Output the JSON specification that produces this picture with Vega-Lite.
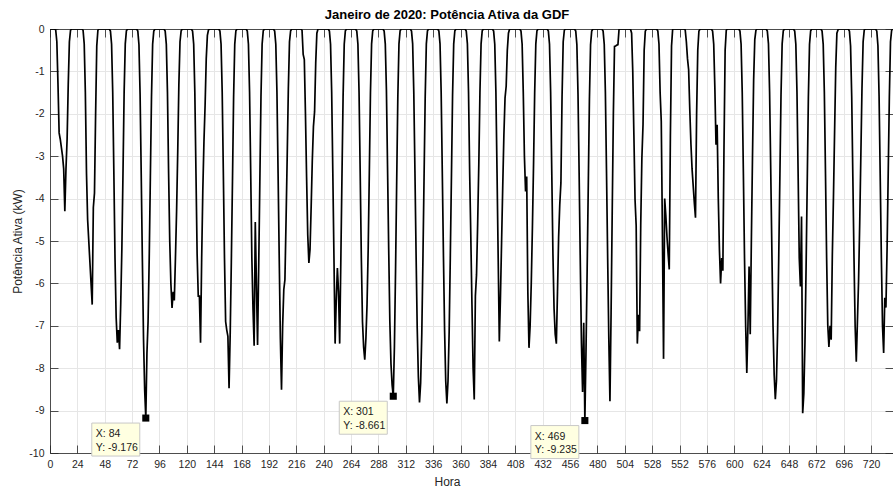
{
"$schema": "https://vega.github.io/schema/vega-lite/v6.json",
"autosize": "none",
"width": 843,
"height": 424,
"padding": {"left": 50, "top": 29, "right": 0, "bottom": 35},
"background": "white",
"config": {"view": {"stroke": null}, "font": "Liberation Sans", "axis": {"labelFont": "Liberation Sans", "titleFont": "Liberation Sans"}},
"title": {"text": "Janeiro de 2020: Potência Ativa da GDF", "fontSize": 13, "font": "Liberation Sans", "fontWeight": "bold", "color": "#000000", "anchor": "middle", "dx": -24.5, "offset": -8, "baseline": "alphabetic"},
"datasets": {
"pot": [
{"h":0,"p":0},{"h":1,"p":0},{"h":2,"p":0},{"h":3,"p":0},{"h":4,"p":0},{"h":5,"p":-0.02},{"h":6,"p":-0.3},{"h":7,"p":-1.3},{"h":8,"p":-2.45},{"h":9,"p":-2.6},{"h":10,"p":-2.8},{"h":11,"p":-3},{"h":12,"p":-3.3},{"h":13,"p":-4.3},{"h":14,"p":-3.3},{"h":15,"p":-2.6},{"h":16,"p":-1.3},{"h":17,"p":-0.3},{"h":18,"p":-0.03},{"h":19,"p":0},{"h":20,"p":0},{"h":21,"p":0},{"h":22,"p":0},{"h":23,"p":0},
{"h":24,"p":0},{"h":25,"p":0},{"h":26,"p":0},{"h":27,"p":0},{"h":28,"p":0},{"h":29,"p":-0.03},{"h":30,"p":-0.35},{"h":31,"p":-1.5},{"h":32,"p":-3.4},{"h":33,"p":-4.5},{"h":34,"p":-5},{"h":35,"p":-5.5},{"h":36,"p":-6},{"h":37,"p":-6.5},{"h":38,"p":-4.21},{"h":39,"p":-3.87},{"h":40,"p":-2},{"h":41,"p":-0.4},{"h":42,"p":-0.03},{"h":43,"p":0},{"h":44,"p":0},{"h":45,"p":0},{"h":46,"p":0},{"h":47,"p":0},
{"h":48,"p":0},{"h":49,"p":0},{"h":50,"p":0},{"h":51,"p":0},{"h":52,"p":0},{"h":53,"p":-0.05},{"h":54,"p":-0.36},{"h":55,"p":-1.5},{"h":56,"p":-3.4},{"h":57,"p":-5.4},{"h":58,"p":-6.8},{"h":59,"p":-7.4},{"h":60,"p":-7.1},{"h":61,"p":-7.55},{"h":62,"p":-6.5},{"h":63,"p":-5.2},{"h":64,"p":-3.4},{"h":65,"p":-1.5},{"h":66,"p":-0.35},{"h":67,"p":-0.04},{"h":68,"p":0},{"h":69,"p":0},{"h":70,"p":0},{"h":71,"p":0},
{"h":72,"p":0},{"h":73,"p":0},{"h":74,"p":0},{"h":75,"p":0},{"h":76,"p":0},{"h":77,"p":-0.05},{"h":78,"p":-0.37},{"h":79,"p":-1.55},{"h":80,"p":-3.45},{"h":81,"p":-5.45},{"h":82,"p":-7.3},{"h":83,"p":-8.5},{"h":84,"p":-9.176},{"h":85,"p":-7.65},{"h":86,"p":-6.9},{"h":87,"p":-5.4},{"h":88,"p":-3.5},{"h":89,"p":-1.6},{"h":90,"p":-0.36},{"h":91,"p":-0.05},{"h":92,"p":0},{"h":93,"p":0},{"h":94,"p":0},{"h":95,"p":0},
{"h":96,"p":0},{"h":97,"p":0},{"h":98,"p":0},{"h":99,"p":0},{"h":100,"p":0},{"h":101,"p":-0.05},{"h":102,"p":-0.36},{"h":103,"p":-1.5},{"h":104,"p":-3.4},{"h":105,"p":-5},{"h":106,"p":-6},{"h":107,"p":-6.58},{"h":108,"p":-6.2},{"h":109,"p":-6.4},{"h":110,"p":-5.4},{"h":111,"p":-4.3},{"h":112,"p":-2.9},{"h":113,"p":-1.3},{"h":114,"p":-0.3},{"h":115,"p":-0.04},{"h":116,"p":0},{"h":117,"p":0},{"h":118,"p":0},{"h":119,"p":0},
{"h":120,"p":0},{"h":121,"p":0},{"h":122,"p":0},{"h":123,"p":0},{"h":124,"p":0},{"h":125,"p":-0.05},{"h":126,"p":-0.36},{"h":127,"p":-1.5},{"h":128,"p":-3.4},{"h":129,"p":-5.3},{"h":130,"p":-6.3},{"h":131,"p":-6.3},{"h":132,"p":-7.4},{"h":133,"p":-5.4},{"h":134,"p":-3.8},{"h":135,"p":-2.65},{"h":136,"p":-1.8},{"h":137,"p":-0.7},{"h":138,"p":-0.15},{"h":139,"p":-0.02},{"h":140,"p":0},{"h":141,"p":0},{"h":142,"p":0},{"h":143,"p":0},
{"h":144,"p":0},{"h":145,"p":0},{"h":146,"p":0},{"h":147,"p":0},{"h":148,"p":0},{"h":149,"p":-0.05},{"h":150,"p":-0.36},{"h":151,"p":-1.5},{"h":152,"p":-3.4},{"h":153,"p":-5.4},{"h":154,"p":-6.9},{"h":155,"p":-7.1},{"h":156,"p":-7.25},{"h":157,"p":-8.47},{"h":158,"p":-7.2},{"h":159,"p":-5.5},{"h":160,"p":-3.6},{"h":161,"p":-1.6},{"h":162,"p":-0.36},{"h":163,"p":-0.04},{"h":164,"p":0},{"h":165,"p":0},{"h":166,"p":0},{"h":167,"p":0},
{"h":168,"p":0},{"h":169,"p":0},{"h":170,"p":0},{"h":171,"p":0},{"h":172,"p":0},{"h":173,"p":-0.05},{"h":174,"p":-0.36},{"h":175,"p":-1.5},{"h":176,"p":-3.4},{"h":177,"p":-5.4},{"h":178,"p":-6.6},{"h":179,"p":-7.47},{"h":180,"p":-4.55},{"h":181,"p":-6},{"h":182,"p":-7.45},{"h":183,"p":-5.6},{"h":184,"p":-3.6},{"h":185,"p":-1.6},{"h":186,"p":-0.36},{"h":187,"p":-0.04},{"h":188,"p":0},{"h":189,"p":0},{"h":190,"p":0},{"h":191,"p":0},
{"h":192,"p":0},{"h":193,"p":0},{"h":194,"p":0},{"h":195,"p":0},{"h":196,"p":0},{"h":197,"p":-0.05},{"h":198,"p":-0.36},{"h":199,"p":-1.5},{"h":200,"p":-3.4},{"h":201,"p":-5.4},{"h":202,"p":-7.3},{"h":203,"p":-8.51},{"h":204,"p":-7},{"h":205,"p":-6.15},{"h":206,"p":-5.91},{"h":207,"p":-4.5},{"h":208,"p":-3},{"h":209,"p":-1.4},{"h":210,"p":-0.3},{"h":211,"p":-0.04},{"h":212,"p":0},{"h":213,"p":0},{"h":214,"p":0},{"h":215,"p":0},
{"h":216,"p":0},{"h":217,"p":0},{"h":218,"p":0},{"h":219,"p":0},{"h":220,"p":0},{"h":221,"p":-0.03},{"h":222,"p":-0.6},{"h":223,"p":-0.72},{"h":224,"p":-2},{"h":225,"p":-3.5},{"h":226,"p":-4.85},{"h":227,"p":-5.52},{"h":228,"p":-5.2},{"h":229,"p":-4.2},{"h":230,"p":-3.1},{"h":231,"p":-2.3},{"h":232,"p":-1.95},{"h":233,"p":-0.8},{"h":234,"p":-0.1},{"h":235,"p":0},{"h":236,"p":0},{"h":237,"p":0},{"h":238,"p":0},{"h":239,"p":0},
{"h":240,"p":0},{"h":241,"p":0},{"h":242,"p":0},{"h":243,"p":0},{"h":244,"p":0},{"h":245,"p":-0.05},{"h":246,"p":-0.36},{"h":247,"p":-1.5},{"h":248,"p":-3.4},{"h":249,"p":-5.4},{"h":250,"p":-7.42},{"h":251,"p":-6.4},{"h":252,"p":-5.64},{"h":253,"p":-6.2},{"h":254,"p":-7.42},{"h":255,"p":-5.5},{"h":256,"p":-3.5},{"h":257,"p":-1.6},{"h":258,"p":-0.36},{"h":259,"p":-0.04},{"h":260,"p":0},{"h":261,"p":0},{"h":262,"p":0},{"h":263,"p":0},
{"h":264,"p":0},{"h":265,"p":0},{"h":266,"p":0},{"h":267,"p":0},{"h":268,"p":0},{"h":269,"p":-0.05},{"h":270,"p":-0.36},{"h":271,"p":-1.5},{"h":272,"p":-3.4},{"h":273,"p":-5.4},{"h":274,"p":-6.9},{"h":275,"p":-7.5},{"h":276,"p":-7.8},{"h":277,"p":-7.3},{"h":278,"p":-6.5},{"h":279,"p":-5.2},{"h":280,"p":-3.4},{"h":281,"p":-1.5},{"h":282,"p":-0.35},{"h":283,"p":-0.04},{"h":284,"p":0},{"h":285,"p":0},{"h":286,"p":0},{"h":287,"p":0},
{"h":288,"p":0},{"h":289,"p":0},{"h":290,"p":0},{"h":291,"p":0},{"h":292,"p":0},{"h":293,"p":-0.05},{"h":294,"p":-0.35},{"h":295,"p":-1.45},{"h":296,"p":-3.3},{"h":297,"p":-5.2},{"h":298,"p":-6.9},{"h":299,"p":-7.9},{"h":300,"p":-8.4},{"h":301,"p":-8.661},{"h":302,"p":-7.5},{"h":303,"p":-5.7},{"h":304,"p":-3.6},{"h":305,"p":-1.6},{"h":306,"p":-0.35},{"h":307,"p":-0.04},{"h":308,"p":0},{"h":309,"p":0},{"h":310,"p":0},{"h":311,"p":0},
{"h":312,"p":0},{"h":313,"p":0},{"h":314,"p":0},{"h":315,"p":0},{"h":316,"p":0},{"h":317,"p":-0.05},{"h":318,"p":-0.35},{"h":319,"p":-1.5},{"h":320,"p":-3.35},{"h":321,"p":-5.3},{"h":322,"p":-7.05},{"h":323,"p":-8.2},{"h":324,"p":-8.81},{"h":325,"p":-8.35},{"h":326,"p":-7.2},{"h":327,"p":-5.45},{"h":328,"p":-3.5},{"h":329,"p":-1.6},{"h":330,"p":-0.35},{"h":331,"p":-0.04},{"h":332,"p":0},{"h":333,"p":0},{"h":334,"p":0},{"h":335,"p":0},
{"h":336,"p":0},{"h":337,"p":0},{"h":338,"p":0},{"h":339,"p":0},{"h":340,"p":0},{"h":341,"p":-0.05},{"h":342,"p":-0.35},{"h":343,"p":-1.5},{"h":344,"p":-3.4},{"h":345,"p":-5.35},{"h":346,"p":-7.1},{"h":347,"p":-8.3},{"h":348,"p":-8.83},{"h":349,"p":-8.3},{"h":350,"p":-7.15},{"h":351,"p":-5.4},{"h":352,"p":-3.5},{"h":353,"p":-1.55},{"h":354,"p":-0.35},{"h":355,"p":-0.04},{"h":356,"p":0},{"h":357,"p":0},{"h":358,"p":0},{"h":359,"p":0},
{"h":360,"p":0},{"h":361,"p":0},{"h":362,"p":0},{"h":363,"p":0},{"h":364,"p":0},{"h":365,"p":-0.05},{"h":366,"p":-0.35},{"h":367,"p":-1.5},{"h":368,"p":-3.4},{"h":369,"p":-4.9},{"h":370,"p":-6.5},{"h":371,"p":-8},{"h":372,"p":-8.74},{"h":373,"p":-6.3},{"h":374,"p":-5.8},{"h":375,"p":-4.6},{"h":376,"p":-3.2},{"h":377,"p":-1.5},{"h":378,"p":-0.35},{"h":379,"p":-0.04},{"h":380,"p":0},{"h":381,"p":0},{"h":382,"p":0},{"h":383,"p":0},
{"h":384,"p":0},{"h":385,"p":0},{"h":386,"p":0},{"h":387,"p":0},{"h":388,"p":0},{"h":389,"p":-0.05},{"h":390,"p":-0.36},{"h":391,"p":-1.5},{"h":392,"p":-3.4},{"h":393,"p":-5.4},{"h":394,"p":-7.37},{"h":395,"p":-6.3},{"h":396,"p":-5},{"h":397,"p":-3.7},{"h":398,"p":-2.5},{"h":399,"p":-1.63},{"h":400,"p":-1.35},{"h":401,"p":-0.5},{"h":402,"p":-0.1},{"h":403,"p":0},{"h":404,"p":0},{"h":405,"p":0},{"h":406,"p":0},{"h":407,"p":0},
{"h":408,"p":0},{"h":409,"p":0},{"h":410,"p":0},{"h":411,"p":0},{"h":412,"p":0},{"h":413,"p":-0.05},{"h":414,"p":-0.36},{"h":415,"p":-1.5},{"h":416,"p":-3},{"h":417,"p":-3.83},{"h":418,"p":-3.48},{"h":419,"p":-6.2},{"h":420,"p":-7.52},{"h":421,"p":-7},{"h":422,"p":-6},{"h":423,"p":-4.7},{"h":424,"p":-3.2},{"h":425,"p":-1.5},{"h":426,"p":-0.35},{"h":427,"p":-0.04},{"h":428,"p":0},{"h":429,"p":0},{"h":430,"p":0},{"h":431,"p":0},
{"h":432,"p":0},{"h":433,"p":0},{"h":434,"p":0},{"h":435,"p":0},{"h":436,"p":0},{"h":437,"p":-0.05},{"h":438,"p":-0.36},{"h":439,"p":-1.5},{"h":440,"p":-3.4},{"h":441,"p":-5.3},{"h":442,"p":-6.6},{"h":443,"p":-7.2},{"h":444,"p":-7.42},{"h":445,"p":-6.2},{"h":446,"p":-4.9},{"h":447,"p":-4.14},{"h":448,"p":-3.63},{"h":449,"p":-1.6},{"h":450,"p":-0.3},{"h":451,"p":-0.03},{"h":452,"p":0},{"h":453,"p":0},{"h":454,"p":0},{"h":455,"p":0},
{"h":456,"p":0},{"h":457,"p":0},{"h":458,"p":0},{"h":459,"p":0},{"h":460,"p":0},{"h":461,"p":-0.05},{"h":462,"p":-0.37},{"h":463,"p":-1.55},{"h":464,"p":-3.45},{"h":465,"p":-5.5},{"h":466,"p":-7.4},{"h":467,"p":-8.56},{"h":468,"p":-6.93},{"h":469,"p":-9.235},{"h":470,"p":-7.6},{"h":471,"p":-5.7},{"h":472,"p":-3.7},{"h":473,"p":-1.65},{"h":474,"p":-0.37},{"h":475,"p":-0.05},{"h":476,"p":0},{"h":477,"p":0},{"h":478,"p":0},{"h":479,"p":0},
{"h":480,"p":0},{"h":481,"p":0},{"h":482,"p":0},{"h":483,"p":0},{"h":484,"p":0},{"h":485,"p":-0.05},{"h":486,"p":-0.36},{"h":487,"p":-1.5},{"h":488,"p":-3.4},{"h":489,"p":-5.4},{"h":490,"p":-7.3},{"h":491,"p":-8.78},{"h":492,"p":-6.7},{"h":493,"p":-4.3},{"h":494,"p":-2},{"h":495,"p":-0.41},{"h":496,"p":-0.4},{"h":497,"p":-0.38},{"h":498,"p":-0.37},{"h":499,"p":0},{"h":500,"p":0},{"h":501,"p":0},{"h":502,"p":0},{"h":503,"p":0},
{"h":504,"p":0},{"h":505,"p":0},{"h":506,"p":0},{"h":507,"p":0},{"h":508,"p":0},{"h":509,"p":0},{"h":510,"p":-0.1},{"h":511,"p":-1},{"h":512,"p":-2.5},{"h":513,"p":-4.02},{"h":514,"p":-4.64},{"h":515,"p":-7.42},{"h":516,"p":-6.74},{"h":517,"p":-7.13},{"h":518,"p":-4.6},{"h":519,"p":-3.04},{"h":520,"p":-2.26},{"h":521,"p":-0.5},{"h":522,"p":-0.05},{"h":523,"p":0},{"h":524,"p":0},{"h":525,"p":0},{"h":526,"p":0},{"h":527,"p":0},
{"h":528,"p":0},{"h":529,"p":0},{"h":530,"p":0},{"h":531,"p":0},{"h":532,"p":0},{"h":533,"p":-0.05},{"h":534,"p":-0.36},{"h":535,"p":-1.5},{"h":536,"p":-2.18},{"h":537,"p":-4.8},{"h":538,"p":-7.78},{"h":539,"p":-4},{"h":540,"p":-4.4},{"h":541,"p":-4.9},{"h":542,"p":-5.3},{"h":543,"p":-5.67},{"h":544,"p":-2.5},{"h":545,"p":-0.4},{"h":546,"p":0},{"h":547,"p":0},{"h":548,"p":0},{"h":549,"p":0},{"h":550,"p":0},{"h":551,"p":0},
{"h":552,"p":0},{"h":553,"p":0},{"h":554,"p":0},{"h":555,"p":0},{"h":556,"p":0},{"h":557,"p":-0.02},{"h":558,"p":-0.3},{"h":559,"p":-0.7},{"h":560,"p":-0.96},{"h":561,"p":-1.9},{"h":562,"p":-2.7},{"h":563,"p":-3.3},{"h":564,"p":-3.7},{"h":565,"p":-4.1},{"h":566,"p":-4.45},{"h":567,"p":-2},{"h":568,"p":-0.5},{"h":569,"p":-0.05},{"h":570,"p":0},{"h":571,"p":0},{"h":572,"p":0},{"h":573,"p":0},{"h":574,"p":0},{"h":575,"p":0},
{"h":576,"p":0},{"h":577,"p":0},{"h":578,"p":0},{"h":579,"p":0},{"h":580,"p":0},{"h":581,"p":-0.05},{"h":582,"p":-0.36},{"h":583,"p":-1.4},{"h":584,"p":-2.73},{"h":585,"p":-2.26},{"h":586,"p":-4},{"h":587,"p":-5.2},{"h":588,"p":-6},{"h":589,"p":-5.4},{"h":590,"p":-5.7},{"h":591,"p":-2.8},{"h":592,"p":-0.5},{"h":593,"p":-0.03},{"h":594,"p":0},{"h":595,"p":0},{"h":596,"p":0},{"h":597,"p":0},{"h":598,"p":0},{"h":599,"p":0},
{"h":600,"p":0},{"h":601,"p":0},{"h":602,"p":0},{"h":603,"p":0},{"h":604,"p":0},{"h":605,"p":-0.05},{"h":606,"p":-0.36},{"h":607,"p":-1.5},{"h":608,"p":-3.4},{"h":609,"p":-5.4},{"h":610,"p":-7},{"h":611,"p":-8.11},{"h":612,"p":-7},{"h":613,"p":-5.6},{"h":614,"p":-7.2},{"h":615,"p":-5},{"h":616,"p":-3},{"h":617,"p":-1.2},{"h":618,"p":-0.25},{"h":619,"p":-0.03},{"h":620,"p":0},{"h":621,"p":0},{"h":622,"p":0},{"h":623,"p":0},
{"h":624,"p":0},{"h":625,"p":0},{"h":626,"p":0},{"h":627,"p":0},{"h":628,"p":0},{"h":629,"p":-0.05},{"h":630,"p":-0.35},{"h":631,"p":-1.5},{"h":632,"p":-3.35},{"h":633,"p":-5.25},{"h":634,"p":-7},{"h":635,"p":-8.15},{"h":636,"p":-8.73},{"h":637,"p":-8.3},{"h":638,"p":-7.15},{"h":639,"p":-5.4},{"h":640,"p":-3.5},{"h":641,"p":-1.55},{"h":642,"p":-0.35},{"h":643,"p":-0.04},{"h":644,"p":0},{"h":645,"p":0},{"h":646,"p":0},{"h":647,"p":0},
{"h":648,"p":0},{"h":649,"p":0},{"h":650,"p":0},{"h":651,"p":0},{"h":652,"p":0},{"h":653,"p":-0.05},{"h":654,"p":-0.36},{"h":655,"p":-1.5},{"h":656,"p":-3.4},{"h":657,"p":-5.4},{"h":658,"p":-6.07},{"h":659,"p":-4.42},{"h":660,"p":-9.06},{"h":661,"p":-8.6},{"h":662,"p":-7.4},{"h":663,"p":-5.6},{"h":664,"p":-3.6},{"h":665,"p":-1.6},{"h":666,"p":-0.36},{"h":667,"p":-0.04},{"h":668,"p":0},{"h":669,"p":0},{"h":670,"p":0},{"h":671,"p":0},
{"h":672,"p":0},{"h":673,"p":0},{"h":674,"p":0},{"h":675,"p":0},{"h":676,"p":0},{"h":677,"p":-0.05},{"h":678,"p":-0.36},{"h":679,"p":-1.5},{"h":680,"p":-3.4},{"h":681,"p":-5.4},{"h":682,"p":-6.98},{"h":683,"p":-7.5},{"h":684,"p":-7},{"h":685,"p":-7.33},{"h":686,"p":-5.33},{"h":687,"p":-3.95},{"h":688,"p":-2.4},{"h":689,"p":-0.9},{"h":690,"p":-0.1},{"h":691,"p":-0.02},{"h":692,"p":0},{"h":693,"p":0},{"h":694,"p":0},{"h":695,"p":0},
{"h":696,"p":0},{"h":697,"p":0},{"h":698,"p":0},{"h":699,"p":0},{"h":700,"p":0},{"h":701,"p":-0.05},{"h":702,"p":-0.4},{"h":703,"p":-1.6},{"h":704,"p":-3.5},{"h":705,"p":-5.4},{"h":706,"p":-7},{"h":707,"p":-7.85},{"h":708,"p":-6.9},{"h":709,"p":-5.95},{"h":710,"p":-4.6},{"h":711,"p":-3},{"h":712,"p":-1.4},{"h":713,"p":-0.3},{"h":714,"p":-0.02},{"h":715,"p":0},{"h":716,"p":0},{"h":717,"p":0},{"h":718,"p":0},{"h":719,"p":0},
{"h":720,"p":0},{"h":721,"p":0},{"h":722,"p":0},{"h":723,"p":0},{"h":724,"p":0},{"h":725,"p":-0.05},{"h":726,"p":-0.4},{"h":727,"p":-1.6},{"h":728,"p":-3.5},{"h":729,"p":-5.4},{"h":730,"p":-7},{"h":731,"p":-7.64},{"h":732,"p":-6.34},{"h":733,"p":-6.57},{"h":734,"p":-5.2},{"h":735,"p":-3.4},{"h":736,"p":-1.6},{"h":737,"p":-0.3},{"h":738,"p":-0.03},{"h":739,"p":0},{"h":740,"p":0},{"h":741,"p":0},{"h":742,"p":0},{"h":743,"p":0}
],
"tips": [
{"h":84,"p":-9.176,"tip":"X: 84\nY: -9.176"},
{"h":301,"p":-8.661,"tip":"X: 301\nY: -8.661"},
{"h":469,"p":-9.235,"tip":"X: 469\nY: -9.235"}
]
},
"layer": [
{
"data": {"name": "pot"},
"mark": {"type": "line", "color": "#000000", "strokeWidth": 1.7, "clip": true},
"encoding": {
"x": {"field": "h", "type": "quantitative", "scale": {"domain": [0, 739.2], "nice": false, "zero": false},
"axis": {"orient": "bottom", "values": [0,24,48,72,96,120,144,168,192,216,240,264,288,312,336,360,384,408,432,456,480,504,528,552,576,600,624,648,672,696,720],
"title": "Hora", "titleFontSize": 12, "titleFontWeight": "normal", "titleColor": "#262626", "titleX": 397, "titleY": 32, "titleBaseline": "alphabetic", "titleAlign": "center",
"labelFontSize": 10.5, "labelColor": "#262626", "labelPadding": 14, "labelFlush": false, "labelOverlap": false,
"tickSize": -8, "tickColor": "#262626", "tickWidth": 0.8, "domainColor": "#262626", "domainWidth": 0.8,
"grid": true, "gridColor": "#e6e6e6", "gridWidth": 1}},
"y": {"field": "p", "type": "quantitative", "scale": {"domain": [-10, 0], "nice": false, "zero": false},
"axis": {"orient": "left", "values": [-10,-9,-8,-7,-6,-5,-4,-3,-2,-1,0], "labelExpr": "'' + datum.value",
"title": "Potência Ativa (kW)", "titleFontSize": 12, "titleFontWeight": "normal", "titleColor": "#262626", "titleX": -33, "titleY": 212, "titleAngle": -90, "titleBaseline": "middle", "titleAlign": "center",
"labelFontSize": 10.5, "labelColor": "#262626", "labelPadding": 14, "labelFlush": false, "labelOverlap": false,
"tickSize": -8, "tickColor": "#262626", "tickWidth": 0.8, "domainColor": "#262626", "domainWidth": 0.8,
"grid": true, "gridColor": "#e6e6e6", "gridWidth": 1}}
}
},
{
"data": {"name": "tips"},
"encoding": {
"x": {"field": "h", "type": "quantitative", "scale": {"domain": [0, 739.2], "nice": false, "zero": false},
"axis": {"orient": "top", "values": [0,24,48,72,96,120,144,168,192,216,240,264,288,312,336,360,384,408,432,456,480,504,528,552,576,600,624,648,672,696,720],
"labels": false, "title": null, "grid": false, "minExtent": 0, "maxExtent": 0, "tickSize": -8, "tickColor": "#262626", "tickWidth": 0.8, "domainColor": "#262626", "domainWidth": 0.8}},
"y": {"field": "p", "type": "quantitative", "scale": {"domain": [-10, 0], "nice": false, "zero": false},
"axis": {"orient": "right", "values": [-10,-9,-8,-7,-6,-5,-4,-3,-2,-1,0], "labels": false, "title": null, "grid": false, "domain": false, "minExtent": 0, "maxExtent": 0, "tickSize": -8, "tickColor": "#262626", "tickWidth": 0.8}}
},
"layer": [
{"mark": {"type": "point", "shape": "M-54,5H-6V38H-54Z", "size": 4, "filled": true, "fill": "#ffffe1", "stroke": "#c8c8c8", "strokeWidth": 1, "opacity": 1, "fillOpacity": 1, "strokeOpacity": 1}},
{"mark": {"type": "point", "shape": "square", "size": 50, "filled": true, "color": "#000000", "opacity": 1}},
{"mark": {"type": "text", "align": "left", "baseline": "alphabetic", "dx": -50, "dy": 19, "fontSize": 10.5, "lineHeight": 13.5, "lineBreak": "\n", "color": "#1a1a1a", "font": "Liberation Sans"},
"encoding": {"text": {"field": "tip"}}}
]
}
],
"resolve": {"axis": {"x": "independent", "y": "independent"}}
}
